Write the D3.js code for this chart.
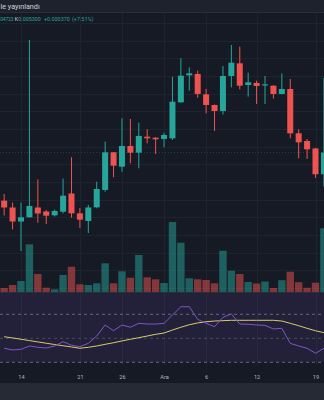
<!DOCTYPE html>
<html>
<head>
<meta charset="utf-8">
<script src="https://cdn.jsdelivr.net/npm/d3@7"></script>
<style>
  html, body { margin: 0; padding: 0; background: #161a25; overflow: hidden; }
  svg { display: block; }
  text { font-family: Roboto, "Trebuchet MS", sans-serif; }
</style>
</head>
<body>
<svg id="chart" width="324" height="400"></svg>
<script>
// Daily candles, 12 Nov – 20 Dec
const dates = [
  "2023-11-12","2023-11-13","2023-11-14","2023-11-15","2023-11-16","2023-11-17","2023-11-18",
  "2023-11-19","2023-11-20","2023-11-21","2023-11-22","2023-11-23","2023-11-24","2023-11-25",
  "2023-11-26","2023-11-27","2023-11-28","2023-11-29","2023-11-30","2023-12-01","2023-12-02",
  "2023-12-03","2023-12-04","2023-12-05","2023-12-06","2023-12-07","2023-12-08","2023-12-09",
  "2023-12-10","2023-12-11","2023-12-12","2023-12-13","2023-12-14","2023-12-15","2023-12-16",
  "2023-12-17","2023-12-18","2023-12-19","2023-12-20"
];
const open = [
  0.004481,0.004365,0.004127,0.004198,0.004365,0.004297,0.004232,0.004294,0.004603,0.004266,
  0.004136,0.004368,0.004663,0.005303,0.005059,0.005411,0.005297,0.005569,0.005552,0.005530,
  0.005541,0.006153,0.006612,0.006635,0.006289,0.006108,0.006006,0.006601,0.006816,0.006448,
  0.006482,0.006439,0.006436,0.006295,0.006380,0.005626,0.005496,0.005368,0.004930
];
const high = [
  0.004595,0.004450,0.004450,0.007213,0.004841,0.004323,0.004331,0.004858,0.005218,0.004357,
  0.004408,0.004804,0.005484,0.005309,0.005881,0.005870,0.005807,0.005694,0.005560,0.005637,
  0.006589,0.006901,0.006748,0.006691,0.006380,0.006115,0.006771,0.007128,0.007099,0.006657,
  0.006521,0.006601,0.006442,0.006646,0.006550,0.005694,0.005530,0.005377,0.006567
];
const low = [
  0.004229,0.003991,0.003626,0.004195,0.004107,0.004085,0.004212,0.004266,0.004192,0.004017,
  0.003932,0.004351,0.004634,0.004878,0.004974,0.005116,0.005031,0.005456,0.005275,0.005388,
  0.005513,0.006150,0.006351,0.006232,0.005966,0.005666,0.005946,0.006408,0.006374,0.006249,
  0.006125,0.006125,0.006215,0.006290,0.005541,0.005201,0.005190,0.004867,0.004723
];
const close = [
  0.004365,0.004127,0.004198,0.004391,0.004263,0.004226,0.004306,0.004566,0.004266,0.004158,
  0.004365,0.004680,0.005303,0.005076,0.005411,0.005297,0.005581,0.005541,0.005524,0.005598,
  0.006164,0.006606,0.006646,0.006295,0.006108,0.006006,0.006601,0.006827,0.006436,0.006493,
  0.006431,0.006459,0.006295,0.006380,0.005626,0.005473,0.005354,0.004930,0.005300
];
// Volume, millions
const volume = [
  0.40,0.70,1.10,4.77,1.80,0.43,0.27,1.70,2.53,0.77,
  0.70,0.87,2.87,0.87,2.07,1.43,3.70,1.47,1.27,0.90,
  7.00,4.93,1.37,1.27,1.20,0.87,4.13,2.13,1.80,1.00,
  0.85,1.05,0.40,1.18,2.03,0.98,0.42,0.93,6.37
];
// RSI (14) and its moving average
const rsi = [
  41.7,40.3,40.8,43.6,42.5,41.9,43.6,47.2,44.2,43.0,
  45.8,51.9,61.1,56.3,61.1,59.2,62.5,61.9,61.9,62.4,
  69.4,76.3,76.3,65.8,62.5,59.7,67.5,70.3,61.9,61.7,
  61.1,60.8,57.8,58.3,45.8,43.6,41.7,37.5,41.7
];
const rsiMa = [
  51.3,50.3,49.2,48.1,47.0,45.9,44.8,43.8,42.8,41.7,
  42.5,43.6,45.0,46.3,47.8,49.2,50.5,51.9,53.3,54.4,
  56.9,59.2,61.3,62.8,63.8,64.4,64.7,65.0,65.0,65.0,
  65.0,65.0,65.0,64.4,62.5,60.5,58.3,56.3,54.7
];
const rsiLevels = [70, 50, 30];
const timeTicks = ["2023-11-14","2023-11-21","2023-11-26","2023-12-01","2023-12-06","2023-12-12","2023-12-19"];
const timeLabels = ["14","21","26","Ara","6","12","19"];
const headerText = "le yayınlandı";

const W = 324, H = 400;
const UP = "#26a69a", DOWN = "#ef5350";
const BG = "#161a25", GRID = "#1f2330";

const parse = d3.utcParse("%Y-%m-%d");
const days = dates.map(parse);
const bars = days.map((d, i) => ({
  date: d, o: open[i], h: high[i], l: low[i], c: close[i], v: volume[i],
  up: close[i] >= open[i]
}));

// panes
const mainTop = 13, mainBottom = 292;
const rsiTop = 293, rsiBottom = 365;

const x = d3.scaleUtc()
  .domain([parse("2023-11-14"), parse("2023-12-19")])
  .range([21, 315.5]);
const y = d3.scaleLinear().domain([0.0029285, 0.0076715]).range([mainBottom, mainTop]);
const yVol = d3.scaleLinear().domain([0, 7]).range([mainBottom, mainBottom - 70]);
const yRsi = d3.scaleLinear().domain([30, 70]).range([362.3, 314.3]);

const svg = d3.select("#chart");
svg.append("rect").attr("width", W).attr("height", H).attr("fill", BG);

const defs = svg.append("defs");
defs.append("clipPath").attr("id", "clipMain")
  .append("rect").attr("x", 0).attr("y", mainTop).attr("width", W).attr("height", mainBottom - mainTop);
defs.append("clipPath").attr("id", "clipRsi")
  .append("rect").attr("x", 0).attr("y", rsiTop).attr("width", W).attr("height", rsiBottom - rsiTop);

// grid
const grid = svg.append("g");
const priceGrid = d3.range(0.0030, 0.00766, 0.0003);
grid.selectAll("line.h").data(priceGrid).join("line")
  .attr("x1", 0).attr("x2", W)
  .attr("y1", d => Math.round(y(d)) + 0.5).attr("y2", d => Math.round(y(d)) + 0.5)
  .attr("stroke", GRID).attr("stroke-width", 1);
const tickDates = timeTicks.map(parse);
grid.selectAll("line.v").data(tickDates).join("line")
  .attr("x1", d => Math.round(x(d)) + 0.5).attr("x2", d => Math.round(x(d)) + 0.5)
  .attr("y1", mainTop).attr("y2", rsiBottom)
  .attr("stroke", GRID).attr("stroke-width", 1);

// volume
const main = svg.append("g").attr("clip-path", "url(#clipMain)");
main.selectAll("rect.vol").data(bars).join("rect")
  .attr("x", d => x(d.date) - 3.7)
  .attr("width", 7.4)
  .attr("y", d => yVol(d.v))
  .attr("height", d => yVol(0) - yVol(d.v))
  .attr("fill", d => d.up ? "rgba(38,166,154,0.5)" : "rgba(239,83,80,0.5)");

// last price line
main.append("line")
  .attr("x1", 0).attr("x2", W)
  .attr("y1", y(close[close.length - 1])).attr("y2", y(close[close.length - 1]))
  .attr("stroke", "rgba(38,166,154,0.3)").attr("stroke-dasharray", "1,2");

// candles
main.selectAll("line.wick").data(bars).join("line")
  .attr("x1", d => x(d.date)).attr("x2", d => x(d.date))
  .attr("y1", d => y(d.h)).attr("y2", d => y(d.l))
  .attr("stroke", d => d.up ? UP : DOWN).attr("stroke-width", 1);
main.selectAll("rect.body").data(bars).join("rect")
  .attr("x", d => x(d.date) - 3)
  .attr("width", 6)
  .attr("y", d => y(Math.max(d.o, d.c)))
  .attr("height", d => Math.max(1, Math.abs(y(d.o) - y(d.c))))
  .attr("fill", d => d.up ? UP : DOWN);

// pane separator
svg.append("line").attr("x1", 0).attr("x2", W).attr("y1", 292.5).attr("y2", 292.5)
  .attr("stroke", "#2a2e39");

// RSI pane
const rp = svg.append("g").attr("clip-path", "url(#clipRsi)");
rp.append("rect")
  .attr("x", 0).attr("width", W)
  .attr("y", rsiTop).attr("height", yRsi(30) - rsiTop)
  .attr("fill", "rgba(126,87,194,0.13)");
rp.selectAll("line.lvl").data(rsiLevels).join("line")
  .attr("x1", 0).attr("x2", W)
  .attr("y1", d => yRsi(d)).attr("y2", d => yRsi(d))
  .attr("stroke", d => d === 50 ? "rgba(120,123,134,0.45)" : "rgba(150,150,165,0.6)")
  .attr("stroke-dasharray", "3,3");
const rsiLine = d3.line().x((d, i) => x(days[i])).y(d => yRsi(d));
rp.append("path").datum(rsiMa).attr("d", rsiLine)
  .attr("fill", "none").attr("stroke", "#d9cc6e").attr("stroke-width", 1);
rp.append("path").datum(rsi).attr("d", rsiLine)
  .attr("fill", "none").attr("stroke", "#7e57c2").attr("stroke-width", 1);

// time axis
const axis = d3.axisBottom(x)
  .tickValues(tickDates)
  .tickFormat((d, i) => timeLabels[i])
  .tickSize(0).tickPadding(0);
const ax = svg.append("g").attr("transform", `translate(0,${rsiBottom + 12.3})`).call(axis);
ax.select(".domain").remove();
ax.selectAll("text").attr("fill", "#b2b5be").attr("font-size", 5.6).attr("dy", "0.35em");

// bottom bar
svg.append("rect").attr("x", 0).attr("y", 383).attr("width", W).attr("height", 17).attr("fill", "#262a35");

// header band
svg.append("rect").attr("x", 0).attr("y", 0).attr("width", W).attr("height", 12).attr("fill", "#1e222d");
svg.append("line").attr("x1", 0).attr("x2", W).attr("y1", 12.5).attr("y2", 12.5).attr("stroke", "#2a2e39");
svg.append("text").attr("x", 0.5).attr("y", 6).attr("dy", "0.35em")
  .attr("font-size", 7.2).attr("fill", "#d1d4dc")
  .text(headerText);

// legend with last bar values
const last = bars[bars.length - 1], prev = bars[bars.length - 2];
const chg = last.c - prev.c;
const fmt = d3.format(".6f");
svg.append("text").attr("x", 0.3).attr("y", 19).attr("dy", "0.35em")
  .attr("font-size", 5.1).attr("letter-spacing", -0.3).attr("fill", UP)
  .text(fmt(last.l).slice(-5));
const leg = svg.append("text").attr("x", 14.8).attr("y", 19).attr("dy", "0.35em").attr("font-size", 5.4);
leg.append("tspan").attr("fill", "#d1d4dc").text("K");
leg.append("tspan").attr("fill", UP).text(fmt(last.c));
leg.append("tspan").attr("fill", UP).attr("dx", 3.2).text((chg >= 0 ? "+" : "") + fmt(chg));
leg.append("tspan").attr("fill", UP).attr("dx", 2.3)
  .text("(" + (chg >= 0 ? "+" : "") + d3.format(".2f")(chg / prev.c * 100) + "%)");
</script>
</body>
</html>
